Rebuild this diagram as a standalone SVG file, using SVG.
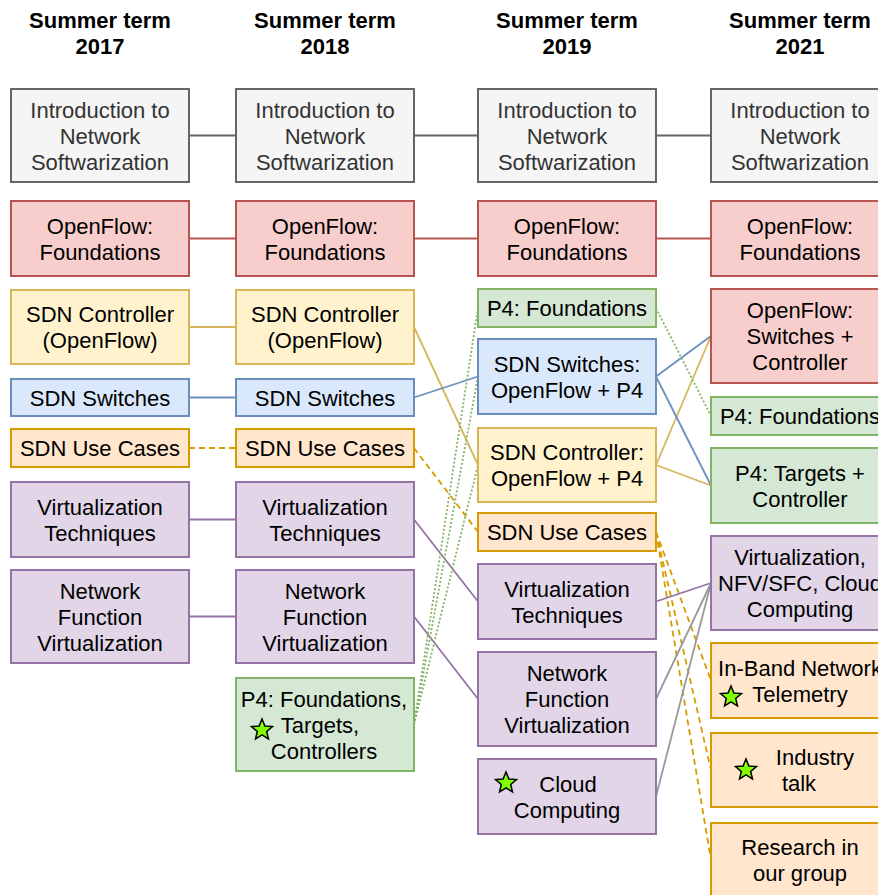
<svg xmlns="http://www.w3.org/2000/svg" width="878" height="895" viewBox="0 0 878 895">
  <style>
    text { font-family: "Liberation Sans", Arial, Helvetica, sans-serif; font-size: 22px; text-anchor: middle; fill: #000; }
    .hdr { font-weight: bold; }
    .intro rect { fill: #f5f5f5; stroke: #666666; }
    .intro text { fill: #333333; }
    .red rect { fill: #f8cecc; stroke: #b85450; }
    .yellow rect { fill: #fff2cc; stroke: #d6b656; }
    .blue rect { fill: #dae8fc; stroke: #6c8ebf; }
    .orange rect { fill: #ffe6cc; stroke: #d79b00; }
    .purple rect { fill: #e1d5e7; stroke: #9673a6; }
    .green rect { fill: #d5e8d4; stroke: #82b366; }
    rect { stroke-width: 2; }
    #connectors line { stroke-width: 1.8; fill: none; }
    .c-gray { stroke: #666666; }
    .c-light { stroke: #999999; }
    .c-red { stroke: #b85450; }
    .c-yellow { stroke: #d6b656; }
    .c-blue { stroke: #6c8ebf; }
    .c-purple { stroke: #9673a6; }
    .c-orange { stroke: #d79b00; stroke-dasharray: 6 4; }
    .c-green { stroke: #82b366; stroke-dasharray: 2 2; }
    .star { fill: #80ff00; stroke: #000; stroke-width: 1.5; stroke-linejoin: miter; }
  </style>
  <defs>
    <path id="star" d="M0,-11 L2.9,-4 L10.46,-3.4 L4.7,1.5 L6.47,8.9 L0,4.9 L-6.47,8.9 L-4.7,1.5 L-10.46,-3.4 L-2.9,-4 Z"/>
  </defs>

  <!-- column headings -->
  <g id="headers">
    <text class="hdr" x="100" y="28">Summer term</text>
    <text class="hdr" x="100" y="54">2017</text>
    <text class="hdr" x="325" y="28">Summer term</text>
    <text class="hdr" x="325" y="54">2018</text>
    <text class="hdr" x="567" y="28">Summer term</text>
    <text class="hdr" x="567" y="54">2019</text>
    <text class="hdr" x="800" y="28">Summer term</text>
    <text class="hdr" x="800" y="54">2021</text>
  </g>

  <!-- connectors between lectures -->
  <g id="connectors">
    <line class="c-gray" x1="189" y1="135.5" x2="236" y2="135.5"/>
    <line class="c-gray" x1="414" y1="135.5" x2="478" y2="135.5"/>
    <line class="c-gray" x1="656" y1="135.5" x2="711" y2="135.5"/>

    <line class="c-red" x1="189" y1="238.5" x2="236" y2="238.5"/>
    <line class="c-red" x1="414" y1="238.5" x2="478" y2="238.5"/>
    <line class="c-red" x1="656" y1="238.5" x2="711" y2="238.5"/>

    <line class="c-yellow" x1="189" y1="327" x2="236" y2="327"/>
    <line class="c-yellow" x1="414" y1="327" x2="478" y2="465"/>
    <line class="c-yellow" x1="656" y1="465" x2="711" y2="336"/>
    <line class="c-yellow" x1="656" y1="465" x2="711" y2="485.5"/>

    <line class="c-blue" x1="189" y1="397.5" x2="236" y2="397.5"/>
    <line class="c-blue" x1="414" y1="397.5" x2="478" y2="376.5"/>
    <line class="c-blue" x1="656" y1="376.5" x2="711" y2="336"/>
    <line class="c-blue" x1="656" y1="376.5" x2="711" y2="485.5"/>

    <line class="c-orange" x1="189" y1="448" x2="236" y2="448"/>
    <line class="c-orange" x1="414" y1="448" x2="478" y2="532"/>
    <line class="c-orange" x1="656" y1="532" x2="711" y2="680.5"/>
    <line class="c-orange" x1="656" y1="532" x2="711" y2="770"/>
    <line class="c-orange" x1="656" y1="532" x2="711" y2="860"/>

    <line class="c-purple" x1="189" y1="519.5" x2="236" y2="519.5"/>
    <line class="c-purple" x1="414" y1="519.5" x2="478" y2="601.5"/>
    <line class="c-purple" x1="189" y1="616.5" x2="236" y2="616.5"/>
    <line class="c-purple" x1="414" y1="616.5" x2="478" y2="699"/>
    <line class="c-purple" x1="656" y1="601.5" x2="711" y2="583"/>

    <line class="c-light" x1="656" y1="699" x2="711" y2="583"/>
    <line class="c-light" x1="656" y1="796.5" x2="711" y2="583"/>

    <line class="c-green" x1="414" y1="724.5" x2="478" y2="308"/>
    <line class="c-green" x1="414" y1="724.5" x2="478" y2="376.5"/>
    <line class="c-green" x1="414" y1="724.5" x2="478" y2="465"/>
    <line class="c-green" x1="656" y1="308" x2="711" y2="416"/>
  </g>

  <!-- 2017 -->
  <g id="intro-2017" class="intro">
    <rect x="11" y="89" width="178" height="93"/>
    <text x="100" y="117.5">Introduction to</text>
    <text x="100" y="143.5">Network</text>
    <text x="100" y="169.5">Softwarization</text>
  </g>
  <g id="openflow-2017" class="red">
    <rect x="11" y="201" width="178" height="75"/>
    <text x="100" y="233.5">OpenFlow:</text>
    <text x="100" y="259.5">Foundations</text>
  </g>
  <g id="controller-2017" class="yellow">
    <rect x="11" y="290" width="178" height="74"/>
    <text x="100" y="322">SDN Controller</text>
    <text x="100" y="348">(OpenFlow)</text>
  </g>
  <g id="switches-2017" class="blue">
    <rect x="11" y="379" width="178" height="37"/>
    <text x="100" y="405.5">SDN Switches</text>
  </g>
  <g id="usecases-2017" class="orange">
    <rect x="11" y="429" width="178" height="38"/>
    <text x="100" y="456">SDN Use Cases</text>
  </g>
  <g id="virt-2017" class="purple">
    <rect x="11" y="482" width="178" height="75"/>
    <text x="100" y="514.5">Virtualization</text>
    <text x="100" y="540.5">Techniques</text>
  </g>
  <g id="nfv-2017" class="purple">
    <rect x="11" y="570" width="178" height="93"/>
    <text x="100" y="598.5">Network</text>
    <text x="100" y="624.5">Function</text>
    <text x="100" y="650.5">Virtualization</text>
  </g>

  <!-- 2018 -->
  <g id="intro-2018" class="intro">
    <rect x="236" y="89" width="178" height="93"/>
    <text x="325" y="117.5">Introduction to</text>
    <text x="325" y="143.5">Network</text>
    <text x="325" y="169.5">Softwarization</text>
  </g>
  <g id="openflow-2018" class="red">
    <rect x="236" y="201" width="178" height="75"/>
    <text x="325" y="233.5">OpenFlow:</text>
    <text x="325" y="259.5">Foundations</text>
  </g>
  <g id="controller-2018" class="yellow">
    <rect x="236" y="290" width="178" height="74"/>
    <text x="325" y="322">SDN Controller</text>
    <text x="325" y="348">(OpenFlow)</text>
  </g>
  <g id="switches-2018" class="blue">
    <rect x="236" y="379" width="178" height="37"/>
    <text x="325" y="405.5">SDN Switches</text>
  </g>
  <g id="usecases-2018" class="orange">
    <rect x="236" y="429" width="178" height="38"/>
    <text x="325" y="456">SDN Use Cases</text>
  </g>
  <g id="virt-2018" class="purple">
    <rect x="236" y="482" width="178" height="75"/>
    <text x="325" y="514.5">Virtualization</text>
    <text x="325" y="540.5">Techniques</text>
  </g>
  <g id="nfv-2018" class="purple">
    <rect x="236" y="570" width="178" height="93"/>
    <text x="325" y="598.5">Network</text>
    <text x="325" y="624.5">Function</text>
    <text x="325" y="650.5">Virtualization</text>
  </g>
  <g id="p4-2018" class="green">
    <rect x="236" y="678" width="178" height="93"/>
    <text x="324" y="706.5">P4: Foundations,</text>
    <text x="320" y="732.5">Targets,</text>
    <text x="324" y="758.5">Controllers</text>
    <use href="#star" class="star" x="262" y="730"/>
  </g>

  <!-- 2019 -->
  <g id="intro-2019" class="intro">
    <rect x="478" y="89" width="178" height="93"/>
    <text x="567" y="117.5">Introduction to</text>
    <text x="567" y="143.5">Network</text>
    <text x="567" y="169.5">Softwarization</text>
  </g>
  <g id="openflow-2019" class="red">
    <rect x="478" y="201" width="178" height="75"/>
    <text x="567" y="233.5">OpenFlow:</text>
    <text x="567" y="259.5">Foundations</text>
  </g>
  <g id="p4-2019" class="green">
    <rect x="478" y="289" width="178" height="38"/>
    <text x="567" y="316">P4: Foundations</text>
  </g>
  <g id="switches-2019" class="blue">
    <rect x="478" y="339" width="178" height="75"/>
    <text x="567" y="371.5">SDN Switches:</text>
    <text x="567" y="397.5">OpenFlow + P4</text>
  </g>
  <g id="controller-2019" class="yellow">
    <rect x="478" y="428" width="178" height="74"/>
    <text x="567" y="460">SDN Controller:</text>
    <text x="567" y="486">OpenFlow + P4</text>
  </g>
  <g id="usecases-2019" class="orange">
    <rect x="478" y="513" width="178" height="38"/>
    <text x="567" y="540">SDN Use Cases</text>
  </g>
  <g id="virt-2019" class="purple">
    <rect x="478" y="564" width="178" height="75"/>
    <text x="567" y="596.5">Virtualization</text>
    <text x="567" y="622.5">Techniques</text>
  </g>
  <g id="nfv-2019" class="purple">
    <rect x="478" y="652" width="178" height="94"/>
    <text x="567" y="681">Network</text>
    <text x="567" y="707">Function</text>
    <text x="567" y="733">Virtualization</text>
  </g>
  <g id="cloud-2019" class="purple">
    <rect x="478" y="759" width="178" height="75"/>
    <text x="568" y="791.5">Cloud</text>
    <text x="567" y="817.5">Computing</text>
    <use href="#star" class="star" x="506" y="783"/>
  </g>

  <!-- 2021 -->
  <g id="intro-2021" class="intro">
    <rect x="711" y="89" width="178" height="93"/>
    <text x="800" y="117.5">Introduction to</text>
    <text x="800" y="143.5">Network</text>
    <text x="800" y="169.5">Softwarization</text>
  </g>
  <g id="openflow-2021" class="red">
    <rect x="711" y="201" width="178" height="75"/>
    <text x="800" y="233.5">OpenFlow:</text>
    <text x="800" y="259.5">Foundations</text>
  </g>
  <g id="ofswitches-2021" class="red">
    <rect x="711" y="289" width="178" height="94"/>
    <text x="800" y="318">OpenFlow:</text>
    <text x="800" y="344">Switches +</text>
    <text x="800" y="370">Controller</text>
  </g>
  <g id="p4-2021" class="green">
    <rect x="711" y="397" width="178" height="38"/>
    <text x="800" y="424">P4: Foundations</text>
  </g>
  <g id="p4targets-2021" class="green">
    <rect x="711" y="448" width="178" height="75"/>
    <text x="800" y="480.5">P4: Targets +</text>
    <text x="800" y="506.5">Controller</text>
  </g>
  <g id="virt-2021" class="purple">
    <rect x="711" y="536" width="178" height="94"/>
    <text x="800" y="565">Virtualization,</text>
    <text x="800" y="591">NFV/SFC, Cloud</text>
    <text x="800" y="617">Computing</text>
  </g>
  <g id="int-2021" class="orange">
    <rect x="711" y="643" width="178" height="75"/>
    <text x="800" y="675.5">In-Band Network</text>
    <text x="800" y="701.5">Telemetry</text>
    <use href="#star" class="star" x="731" y="697"/>
  </g>
  <g id="industry-2021" class="orange">
    <rect x="711" y="733" width="178" height="74"/>
    <text x="815" y="765">Industry</text>
    <text x="799" y="791">talk</text>
    <use href="#star" class="star" x="746" y="770"/>
  </g>
  <g id="research-2021" class="orange">
    <rect x="711" y="823" width="178" height="74"/>
    <text x="800" y="855">Research in</text>
    <text x="800" y="881">our group</text>
  </g>
</svg>
